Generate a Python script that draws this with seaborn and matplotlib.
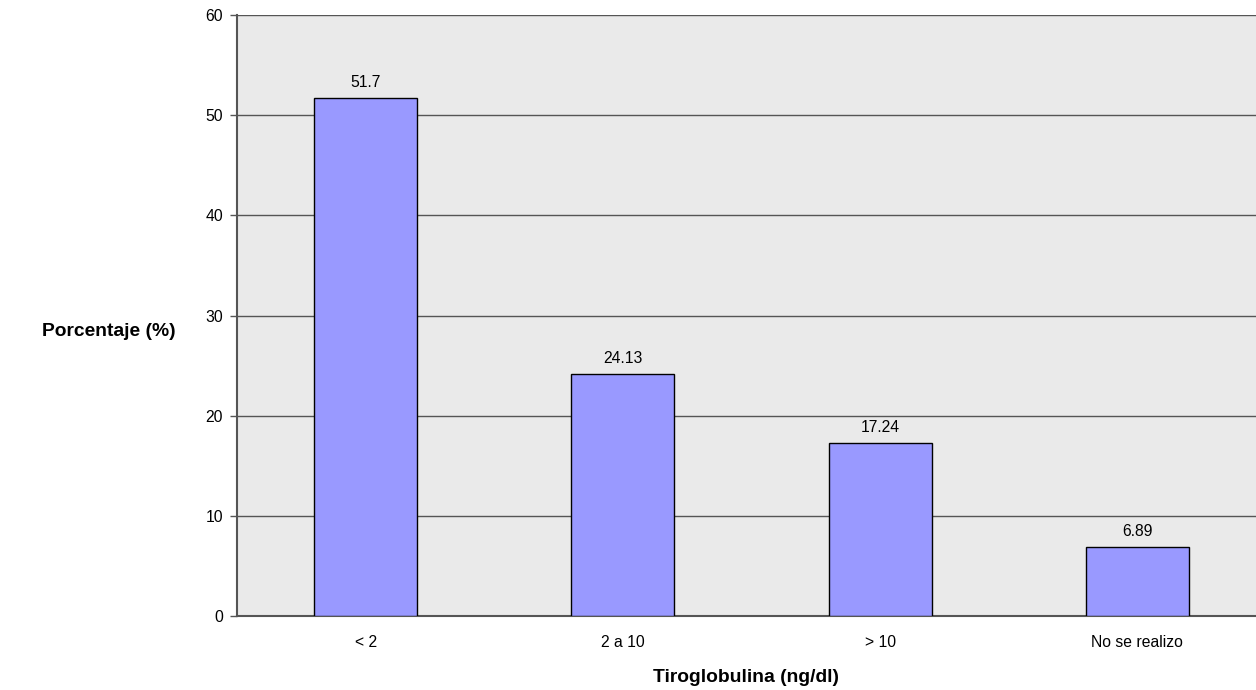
import matplotlib
matplotlib.use("Agg")
import matplotlib.pyplot as plt
import seaborn as sns
import pandas as pd

categories = ["< 2", "2 a 10", "> 10", "No se realizo"]
percentages = [51.7, 24.13, 17.24, 6.89]
value_labels = ["51.7", "24.13", "17.24", "6.89"]
y_ticks = [0, 10, 20, 30, 40, 50, 60]

sns.set_theme(style="white")
plt.rcParams["font.family"] = ["Liberation Sans", "DejaVu Sans"]
plt.rcParams["text.color"] = "black"
plt.rcParams["axes.labelcolor"] = "black"
plt.rcParams["xtick.labelcolor"] = "black"
plt.rcParams["ytick.labelcolor"] = "black"

df = pd.DataFrame({"categoria": categories, "porcentaje": percentages})

W, H = 1256, 690
left_px, right_px, top_px, bottom_px = 237, 1266, 15, 616
fig = plt.figure(figsize=(W / 100, H / 100), dpi=100)
ax = fig.add_axes([left_px / W, 1 - bottom_px / H,
                   (right_px - left_px) / W, (bottom_px - top_px) / H])
ax.set_facecolor("#eaeaea")

sns.barplot(data=df, x="categoria", y="porcentaje", order=categories,
            color="#9999ff", saturation=1, width=0.4,
            edgecolor="black", linewidth=1.0, ax=ax, zorder=3)

ax.set_ylim(0, 60)
ax.set_xlim(-0.5, len(categories) - 0.5)
ax.set_yticks(y_ticks)
ax.set_yticklabels([str(t) for t in y_ticks], fontsize=11.3)
ax.yaxis.grid(True, color="#555555", linewidth=1.0, zorder=0)
ax.set_axisbelow(True)

# category labels centred, tick marks on category boundaries
ax.set_xticks(range(len(categories)))
ax.set_xticklabels(categories, fontsize=11.3)
ax.tick_params(axis="x", which="major", length=0, pad=14)
ax.set_xticks([i - 0.5 for i in range(len(categories) + 1)], minor=True)
ax.tick_params(axis="x", which="minor", length=5, width=1, color="#555555", direction="out")
ax.tick_params(axis="y", which="major", length=5, width=1, color="#555555",
               direction="out", left=True, pad=5)

for side in ["top", "right"]:
    ax.spines[side].set_visible(False)
for side in ["left", "bottom"]:
    ax.spines[side].set_color("#555555")
    ax.spines[side].set_linewidth(1.5)

for i, (v, lab) in enumerate(zip(percentages, value_labels)):
    ax.annotate(lab, (i, v), xytext=(0, 6), textcoords="offset points",
                ha="center", va="bottom", fontsize=11.3, color="black")

ax.set_xlabel("Tiroglobulina (ng/dl)", fontsize=13.9, fontweight="bold")
ax.xaxis.set_label_coords((746 - left_px) / (right_px - left_px),
                          -(677 - bottom_px) / (bottom_px - top_px))
ax.xaxis.label.set_va("center")
ax.set_ylabel("Porcentaje (%)", fontsize=13.9, fontweight="bold", rotation=0,
              ha="center", va="center")
ax.yaxis.set_label_coords(-(left_px - 109) / (right_px - left_px),
                          (bottom_px - 332) / (bottom_px - top_px))

fig.savefig("out.png", dpi=100)
